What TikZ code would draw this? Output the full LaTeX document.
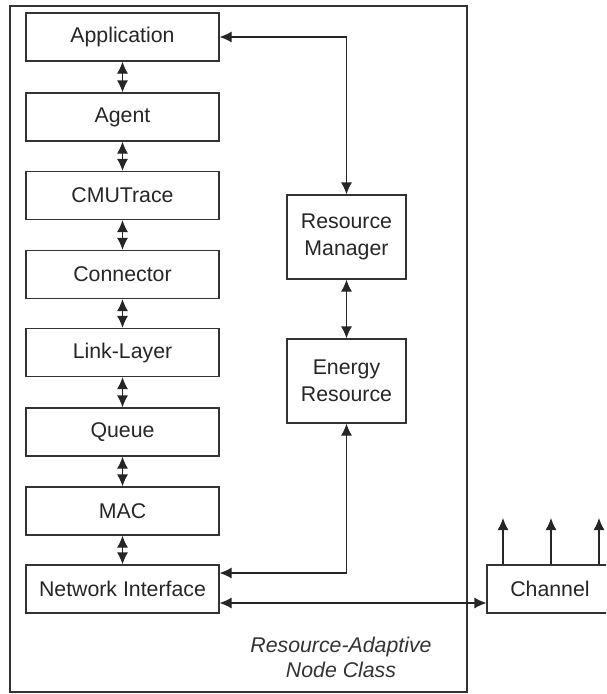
\documentclass[tikz,border=0pt]{standalone}
\usepackage{fontspec}
\setmainfont{Liberation Sans}
\usetikzlibrary{arrows.meta}

\begin{document}
\begin{tikzpicture}[x=1pt,y=-1pt,
	layer/.style={draw=black!80, line width=1.2pt, minimum width=193pt, minimum height=48pt, inner sep=0pt, text=black!85, align=center, font=\fontsize{21.3}{26.5}\selectfont},
	res/.style={layer, minimum width=119pt, minimum height=84pt},
	link/.style={line width=1.2pt, draw=black!85, {Latex[length=12pt,width=11pt]}-{Latex[length=12pt,width=11pt]}},
	up/.style={line width=1.2pt, draw=black!85, -{Latex[length=12pt,width=11pt]}}]
		%\draw[gray,step=50] (0,0) grid (606,694);
		\useasboundingbox (0,0) rectangle (606,694);
		\clip (0,0) rectangle (606,694);
		\draw[line width=1.5pt, black!80] (10,6) rectangle (467,692);
		\node[layer] (app) at (122.5,37) {Application};
		\node[layer] (agent) at (122.5,117) {Agent};
		\node[layer] (trace) at (122.5,195.5) {CMUTrace};
		\node[layer] (conn) at (122.5,274.5) {Connector};
		\node[layer] (ll) at (122.5,352.5) {Link-Layer};
		\node[layer] (queue) at (122.5,432) {Queue};
		\node[layer] (mac) at (122.5,511) {MAC};
		\node[layer] (ni) at (122.5,589) {Network Interface};
		\node[res] (rm) at (346.5,237) {Resource\\Manager};
		\node[res] (er) at (346.5,381) {Energy\\Resource};
		\node[layer, minimum width=126pt] (ch) at (550,589) {Channel};
		\draw[link] (app) -- (agent);
		\draw[link] (agent) -- (trace);
		\draw[link] (trace) -- (conn);
		\draw[link] (conn) -- (ll);
		\draw[link] (ll) -- (queue);
		\draw[link] (queue) -- (mac);
		\draw[link] (mac) -- (ni);
		\draw[link] (app.east) -| (rm.north);
		\draw[link] (rm) -- (er);
		\draw[link] (er.south) |- ([yshift=16pt]ni.east);
		\draw[link] ([yshift=-14pt]ni.east) -- ([yshift=-14pt]ch.west);
		\coordinate (c1) at (503,518);
		\coordinate (c2) at (551,518);
		\coordinate (c3) at (599,518);
		\draw[up] (ch.north -| c1) -- (c1);
		\draw[up] (ch.north -| c2) -- (c2);
		\draw[up] (ch.north -| c3) -- (c3);
		\node[text=black!80, align=center, font=\fontsize{21.3}{25}\selectfont\itshape] (cls) at (341,657) {Resource-Adaptive\\Node Class};
	\end{tikzpicture}
\end{document}
